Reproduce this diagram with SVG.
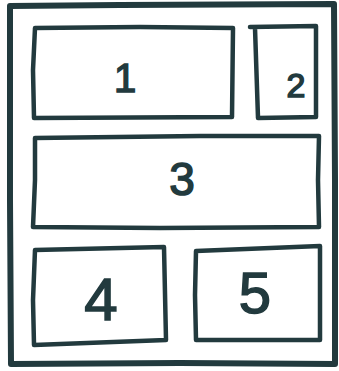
<svg xmlns="http://www.w3.org/2000/svg" width="339" height="371" viewBox="0 0 339 371">
<style>
.frame{fill:none;stroke:#223a3e;stroke-width:6;stroke-linejoin:round;stroke-linecap:round}
.box{fill:none;stroke:#223a3e;stroke-width:4.5;stroke-linejoin:round;stroke-linecap:round}
.lbl{font-family:"Liberation Sans",Arial,sans-serif;fill:#223a3e;stroke:#223a3e;stroke-width:1.5;text-anchor:middle}
</style>
<rect width="339" height="371" fill="#ffffff"/>
<g id="outer">
<path class="frame" d="M10,6 L120,5 L334,4 L335,180 L335,364 L180,363 L11,364 L10,200 Z"/>
</g>
<g id="node1">
<path class="box" d="M35,28 L140,27 L233,28 L232,117 L34,118 L33,70 Z"/>
<text class="lbl" x="125" y="92" font-size="40">1</text>
</g>
<g id="node2">
<path class="box" d="M250,27 L316,26 L316,117 L258,118 L255,28"/>
<text class="lbl" x="296" y="97" font-size="34">2</text>
</g>
<g id="node3">
<path class="box" d="M35,138 L200,136 L319,136 L318,180 L319,227 L160,228 L33,227 L35,180 Z"/>
<text class="lbl" x="182" y="195" font-size="46">3</text>
</g>
<g id="node4">
<path class="box" d="M35,250 L164,247 L166,340 L34,345 L33,300 Z"/>
<text class="lbl" x="101" y="320" font-size="60">4</text>
</g>
<g id="node5">
<path class="box" d="M196,251 L320,246 L320,340 L196,340 L195,295 Z"/>
<text class="lbl" x="255" y="313" font-size="58">5</text>
</g>
<g id="connectors"></g>
</svg>
